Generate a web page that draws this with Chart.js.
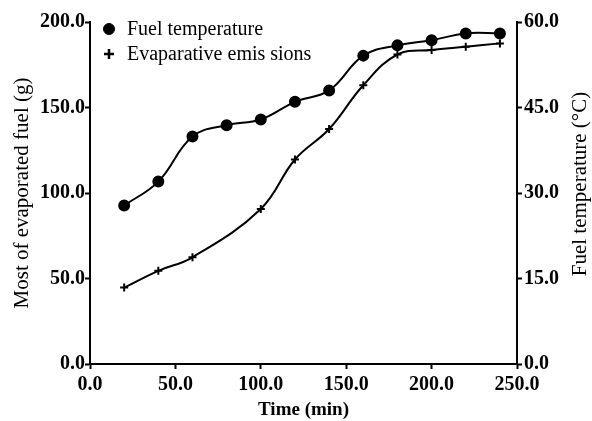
<!DOCTYPE html>
<html>
<head>
<meta charset="utf-8">
<script src="https://cdn.jsdelivr.net/npm/chart.js@4.4.1/dist/chart.umd.min.js"></script>
<style>
  html, body { margin: 0; padding: 0; background: #fff; }
  #wrap { width: 592px; height: 421px; }
</style>
</head>
<body>
<div id="wrap"><canvas id="chart"></canvas></div>
<script>
// data
const timeTemp = [20, 40, 60, 80, 100, 120, 140, 160, 180, 200, 220, 240];
const fuelTemp = [27.8, 32.0, 39.9, 41.9, 42.9, 46.0, 48.0, 54.1, 55.9, 56.8, 58.0, 58.0];
const timeEmis = [20, 40, 60, 100, 120, 140, 160, 180, 200, 220, 240];
const emissions = [44.7, 54.5, 62.4, 90.7, 119.6, 137.4, 163.0, 181.0, 183.6, 185.5, 187.5];
const xTicks = [0, 50, 100, 150, 200, 250];

const serif = '"Liberation Serif", "Times New Roman", serif';

// right axis title reads bottom-to-top, and the legend sits inside the plot
const extras = {
    id: 'extras',
    afterDraw(chart) {
        const c = chart.ctx;
        const a = chart.chartArea;
        c.save();
        c.fillStyle = '#000';
        c.strokeStyle = '#000';
        c.textBaseline = 'middle';

        // legend
        c.font = '20px ' + serif;
        c.textAlign = 'left';
        chart.data.datasets.forEach((ds, i) => {
            const y = a.top + 7 + i * 25;
            const st = ds.pointStyle === 'cross'
                ? { pointStyle: 'cross', radius: 5, borderWidth: 2.5 }
                : { pointStyle: 'circle', radius: 5.5, borderWidth: 1 };
            c.lineWidth = st.borderWidth;
            Chart.helpers.drawPoint(c, st, a.left + 19, y);
            c.fillText(ds.label, a.left + 37, y + 1);
        });

        // right title
        c.font = '21px ' + serif;
        c.textAlign = 'center';
        c.translate(580, 184);
        c.rotate(-Math.PI / 2);
        c.fillText('Fuel temperature (°C)', 0, 0);
        c.restore();
    }
};

new Chart(document.getElementById('chart'), {
    type: 'line',
    data: {
        datasets: [{
            label: 'Fuel temperature',
            data: timeTemp.map((t, i) => ({ x: t, y: fuelTemp[i] })),
            yAxisID: 'y2',
            borderColor: '#000',
            backgroundColor: '#000',
            borderWidth: 2,
            pointStyle: 'circle',
            pointRadius: 5,
            tension: 0.4
        }, {
            label: 'Evaparative emis sions',
            data: timeEmis.map((t, i) => ({ x: t, y: emissions[i] })),
            yAxisID: 'y',
            borderColor: '#000',
            backgroundColor: '#000',
            borderWidth: 2,
            pointStyle: 'cross',
            pointRadius: 4,
            pointBorderWidth: 2,
            tension: 0.4
        }]
    },
    options: {
        responsive: true,
        maintainAspectRatio: false,
        animation: false,
        layout: { padding: { left: 0, right: 0, top: 22, bottom: 0 } },
        plugins: {
            legend: { display: false },
            tooltip: { enabled: false }
        },
        scales: {
            x: {
                type: 'linear',
                min: 0,
                max: 250,
                afterBuildTicks: s => { s.ticks = xTicks.map(v => ({ value: v })); },
                ticks: {
                    callback: v => v.toFixed(1),
                    color: '#000',
                    font: { family: serif, size: 20, weight: 'bold' },
                    padding: 4,
                    maxRotation: 0
                },
                grid: { drawOnChartArea: false, tickLength: 5, tickColor: '#000', tickWidth: 2 },
                border: { color: '#000', width: 2 },
                title: {
                    display: true,
                    text: 'Time (min)',
                    color: '#000',
                    font: { family: serif, size: 19, weight: 'bold' },
                    padding: 0
                },
                afterFit: s => { s.height = 57; }
            },
            y: {
                position: 'left',
                min: 0,
                max: 200,
                ticks: {
                    stepSize: 50,
                    callback: v => v.toFixed(1),
                    color: '#000',
                    font: { family: serif, size: 20, weight: 'bold' },
                    padding: 0
                },
                grid: { drawOnChartArea: false, tickLength: 5, tickColor: '#000', tickWidth: 2 },
                border: { color: '#000', width: 2 },
                title: {
                    display: true,
                    text: 'Most of evaporated fuel (g)',
                    color: '#000',
                    font: { family: serif, size: 21 },
                    padding: { top: 10, bottom: 0 }
                },
                afterFit: s => { s.width = 90; }
            },
            y2: {
                position: 'right',
                min: 0,
                max: 60,
                ticks: {
                    stepSize: 15,
                    callback: v => v.toFixed(1),
                    color: '#000',
                    font: { family: serif, size: 20, weight: 'bold' },
                    padding: 2
                },
                grid: { drawOnChartArea: false, tickLength: 5, tickColor: '#000', tickWidth: 2 },
                border: { color: '#000', width: 2 },
                afterFit: s => { s.width = 75; }
            }
        }
    },
    plugins: [extras]
});
</script>
</body>
</html>
